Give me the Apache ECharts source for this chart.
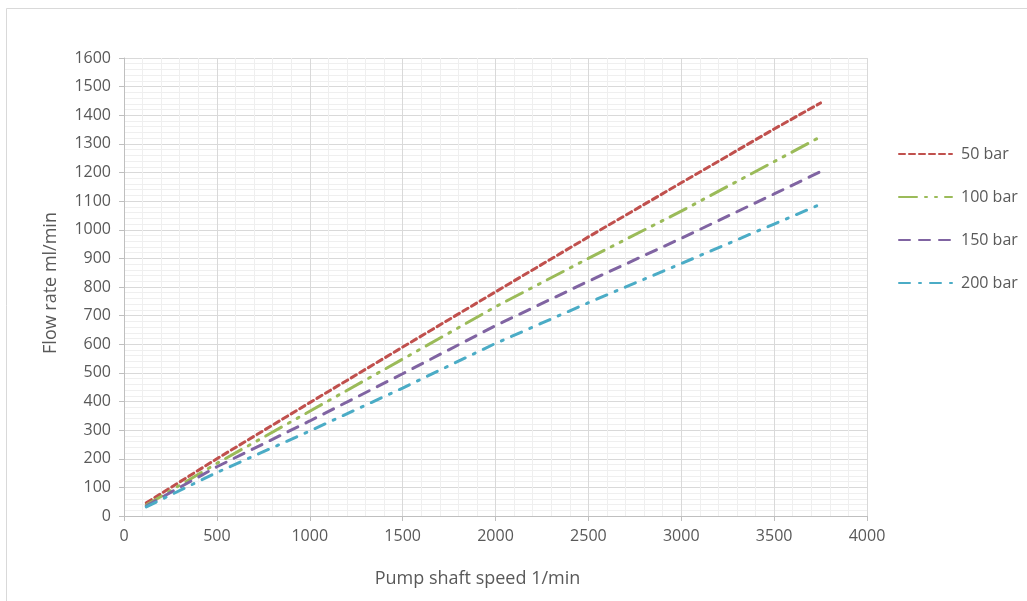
<!DOCTYPE html>
<html>
<head>
<meta charset="utf-8">
<script src="https://cdn.jsdelivr.net/npm/echarts@6/dist/echarts.min.js"></script>
<style>
html,body{margin:0;padding:0;background:#fff;}
#chart{width:1027px;height:601px;}
</style>
</head>
<body>
<div id="chart"></div>
<script>
const speeds = [120, 500, 1000, 1500, 2000, 2500, 3000, 3500, 3750];
const bar50  = [46, 200, 396, 590, 783, 975, 1164, 1352, 1443];
const bar100 = [38, 184, 366, 548, 731, 900, 1065, 1238, 1325];
const bar150 = [35, 172, 332, 497, 665, 820, 970, 1125, 1203];
const bar200 = [32, 152, 297, 447, 603, 745, 882, 1020, 1089];
const seriesNames = ['50 bar', '100 bar', '150 bar', '200 bar'];
const colors = ['#C0504D', '#9BBB59', '#8064A2', '#4BACC6'];
const dashes = [[6, 4], [18, 8, 2, 8, 2, 8], [11, 9], [11, 9, 2, 9]];
const allData = [bar50, bar100, bar150, bar200];

const font = '"Open Sans", Lato, sans-serif';
const chart = echarts.init(document.getElementById('chart'), null, {renderer: 'canvas'});
chart.setOption({
  animation: false,
  backgroundColor: '#fff',
  graphic: [{
    type: 'rect',
    shape: {x: 6.5, y: 8.5, width: 1200, height: 800},
    style: {fill: 'none', stroke: '#d9d9d9', lineWidth: 1},
    silent: true
  }],
  grid: {left: 124, right: 160, top: 58, bottom: 85},
  legend: {
    orient: 'vertical',
    left: 893,
    top: 141,
    itemWidth: 53,
    itemHeight: 14,
    itemGap: 27,
    itemStyle: {color: 'transparent', borderColor: 'transparent', borderWidth: 0},
    textStyle: {fontFamily: font, fontSize: 16, color: '#595959', padding: [0, 0, 0, 4]},
    data: seriesNames
  },
  xAxis: {
    type: 'value', min: 0, max: 4000, interval: 500,
    name: 'Pump shaft speed 1/min', nameLocation: 'middle', nameGap: 54,
    nameTextStyle: {fontFamily: font, fontSize: 18, color: '#595959', padding: [0, 36, 0, 0]},
    axisLine: {show: true, lineStyle: {color: '#bfbfbf'}},
    axisTick: {show: true, length: 5, lineStyle: {color: '#bfbfbf'}},
    axisLabel: {fontFamily: font, fontSize: 16, color: '#595959', margin: 12, formatter: v => String(v)},
    splitLine: {show: true, lineStyle: {color: '#d9d9d9', width: 1}},
    minorTick: {show: false, splitNumber: 5},
    minorSplitLine: {show: true, lineStyle: {color: '#efefef', width: 1}}
  },
  yAxis: {
    type: 'value', min: 0, max: 1600, interval: 100,
    name: 'Flow rate ml/min', nameLocation: 'middle', nameGap: 64,
    nameTextStyle: {fontFamily: font, fontSize: 18, color: '#595959', padding: [0, 0, 0, 8]},
    axisLine: {show: true, lineStyle: {color: '#bfbfbf'}},
    axisTick: {show: true, length: 5, lineStyle: {color: '#bfbfbf'}},
    axisLabel: {fontFamily: font, fontSize: 16, color: '#595959', margin: 13, formatter: v => String(v)},
    splitLine: {show: true, lineStyle: {color: '#d9d9d9', width: 1}},
    minorTick: {show: false, splitNumber: 5},
    minorSplitLine: {show: true, lineStyle: {color: '#efefef', width: 1}}
  },
  series: seriesNames.map((n, i) => ({
    name: n,
    type: 'line',
    symbol: 'none',
    smooth: false,
    color: colors[i],
    lineStyle: {color: colors[i], width: 3, type: dashes[i], cap: 'round'},
    data: speeds.map((s, k) => [s, allData[i][k]])
  }))
});
</script>
</body>
</html>
